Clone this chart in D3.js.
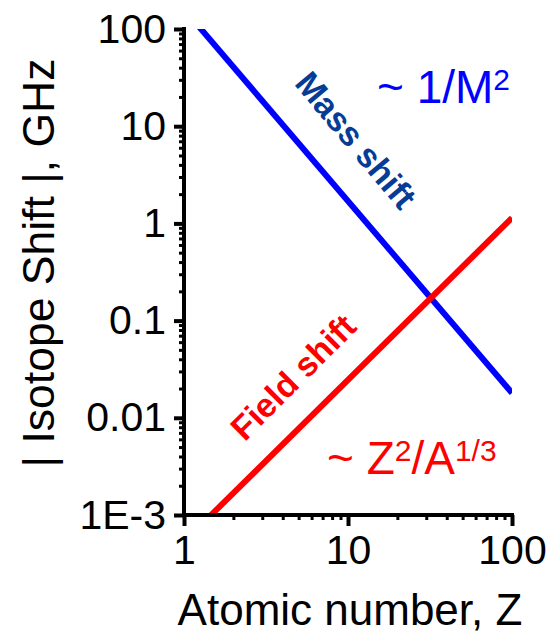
<!DOCTYPE html>
<html>
<head>
<meta charset="utf-8">
<script src="https://cdn.jsdelivr.net/npm/d3@7"></script>
<style>
  html, body { margin: 0; padding: 0; background: #fff; }
  svg { display: block; }
  text { font-family: "Liberation Sans", Arial, sans-serif; }
</style>
</head>
<body>
<svg id="chart" width="552" height="638"></svg>
<script>
// ---- data ----
const zValues     = [1, 100];          // atomic number Z
const massShift   = [160, 0.018];      // |isotope shift| GHz, ~1/M^2
const fieldShift  = [0.00053, 1.14];   // |isotope shift| GHz, ~Z^2/A^(1/3)
const xTickValues = [1, 10, 100];
const xTickLabels = ["1", "10", "100"];
const yTickValues = [0.001, 0.01, 0.1, 1, 10, 100];
const yTickLabels = ["1E-3", "0.01", "0.1", "1", "10", "100"];

(function () {
const svg = d3.select("#chart");
const pL = 184, pR = 512, pT = 29, pB = 515;

const x = d3.scaleLog().domain([1, 100]).range([pL, pR]);
const y = d3.scaleLog().domain([0.001, 100]).range([pB, pT]);

// clip
svg.append("defs").append("clipPath").attr("id", "plotclip")
  .append("rect").attr("x", pL).attr("y", pT)
  .attr("width", pR - pL).attr("height", pB - pT);

const line = d3.line().x(d => x(d[0])).y(d => y(d[1]));
const g = svg.append("g").attr("clip-path", "url(#plotclip)");
g.append("path").datum(zValues.map((z, i) => [z, massShift[i]]))
  .attr("d", line).attr("fill", "none").attr("stroke", "#0000ff").attr("stroke-width", 6);
g.append("path").datum(zValues.map((z, i) => [z, fieldShift[i]]))
  .attr("d", line).attr("fill", "none").attr("stroke", "#ff0000").attr("stroke-width", 6);

// minor tick values
function minorTicks(scale) {
  const [a, b] = scale.domain();
  const out = [];
  for (let e = Math.round(Math.log10(a)); e < Math.round(Math.log10(b)); e++) {
    for (let m = 2; m <= 9; m++) out.push(m * Math.pow(10, e));
  }
  return out;
}

const FONT = "Liberation Sans, Arial, sans-serif";

// X axis
svg.append("g").attr("transform", `translate(0,${pB})`)
  .call(d3.axisBottom(x).tickValues(minorTicks(x)).tickSize(5).tickFormat(""))
  .call(s => s.select(".domain").remove())
  .call(s => s.selectAll("line").attr("stroke", "#000").attr("stroke-width", 3));
svg.append("g").attr("transform", `translate(0,${pB})`)
  .call(d3.axisBottom(x).tickValues(xTickValues).tickSize(11).tickPadding(9)
    .tickFormat((d, i) => xTickLabels[i]))
  .call(s => s.select(".domain").remove())
  .call(s => s.selectAll("line").attr("stroke", "#000").attr("stroke-width", 4))
  .call(s => s.selectAll("text").attr("font-size", 41).attr("fill", "#000").attr("font-family", FONT));

// Y axis
svg.append("g").attr("transform", `translate(${pL},0)`)
  .call(d3.axisLeft(y).tickValues(minorTicks(y)).tickSize(5).tickFormat(""))
  .call(s => s.select(".domain").remove())
  .call(s => s.selectAll("line").attr("stroke", "#000").attr("stroke-width", 3));
svg.append("g").attr("transform", `translate(${pL},0)`)
  .call(d3.axisLeft(y).tickValues(yTickValues).tickSize(10).tickPadding(8)
    .tickFormat((d, i) => yTickLabels[i]))
  .call(s => s.select(".domain").remove())
  .call(s => s.selectAll("line").attr("stroke", "#000").attr("stroke-width", 4))
  .call(s => s.selectAll("text").attr("font-size", 41).attr("fill", "#000").attr("font-family", FONT));

// axis lines
svg.append("line").attr("x1", pL).attr("x2", pL).attr("y1", pT - 2).attr("y2", pB + 2)
  .attr("stroke", "#000").attr("stroke-width", 4);
svg.append("line").attr("x1", pL - 2).attr("x2", pR + 2).attr("y1", pB).attr("y2", pB)
  .attr("stroke", "#000").attr("stroke-width", 4);

// axis titles
svg.append("text").attr("x", 350).attr("y", 625).attr("text-anchor", "middle")
  .attr("font-size", 44).attr("fill", "#000").text("Atomic number, Z");
svg.append("text").attr("transform", "translate(38,263) rotate(-90)")
  .attr("text-anchor", "middle").attr("dominant-baseline", "central")
  .attr("font-size", 44.5).attr("fill", "#000").text("| Isotope Shift |, GHz");

// line labels
svg.append("text").attr("transform", "translate(356,140) rotate(50)")
  .attr("text-anchor", "middle").attr("dominant-baseline", "central")
  .attr("font-size", 34).attr("font-weight", "bold").attr("fill", "#063c96").text("Mass shift");
svg.append("text").attr("transform", "translate(293,377) rotate(-45)")
  .attr("text-anchor", "middle").attr("dominant-baseline", "central")
  .attr("font-size", 34).attr("font-weight", "bold").attr("fill", "#ff0000").text("Field shift");

// scaling annotations
const t1 = svg.append("text").attr("x", 377).attr("y", 103).attr("font-size", 46).attr("fill", "#0000ff");
t1.append("tspan").text("~ 1/M");
t1.append("tspan").attr("font-size", 30).attr("dy", -13).text("2");

const t2 = svg.append("text").attr("x", 327).attr("y", 474).attr("font-size", 46).attr("fill", "#ff0000");
t2.append("tspan").text("~ Z");
t2.append("tspan").attr("font-size", 30).attr("dy", -13).text("2");
t2.append("tspan").attr("dy", 13).text("/A");
t2.append("tspan").attr("font-size", 30).attr("dy", -13).text("1/3");
})();
</script>
</body>
</html>
